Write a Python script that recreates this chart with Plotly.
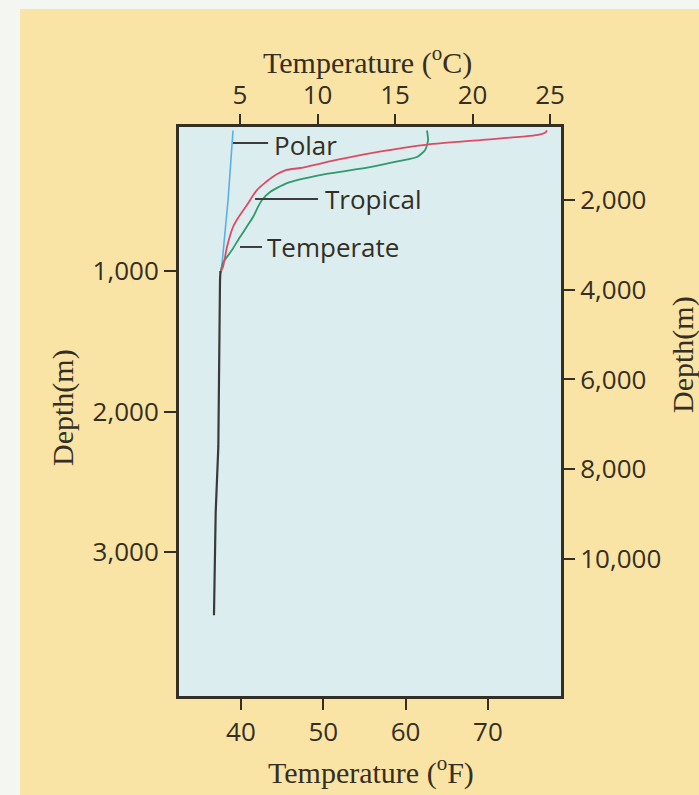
import plotly.graph_objects as go

# ---------------- data (temperature in °C, depth in m) ----------------
tropical_temp = [24.8, 24.7, 24.3, 23.7, 20.5, 17.1, 14.0, 11.3, 8.9, 8.0, 7.1, 6.1, 5.45, 4.87, 4.55, 4.16, 3.9, 3.74]
tropical_depth = [0, 15, 30, 39, 68, 100, 150, 208, 267, 281, 331, 423, 530, 623, 687, 829, 972, 1010]

temperate_temp = [17.06, 17.13, 16.94, 16.42, 15.32, 13.39, 10.16, 8.03, 6.94, 6.42, 6.16, 5.84, 5.0, 4.48, 3.9, 3.74]
temperate_depth = [0, 68, 139, 189, 217, 260, 317, 374, 438, 495, 544, 616, 758, 851, 943, 1010]

polar_temp = [4.55, 4.23, 3.82, 3.74]
polar_depth = [0, 495, 971, 1010]

deep_temp = [3.74, 3.71, 3.60, 3.43, 3.32]
deep_depth = [1000, 1064, 2252, 2722, 3450]

top_ticks_c = [5, 10, 15, 20, 25]
bottom_ticks_f = [40, 50, 60, 70]
left_ticks_m = [1000, 2000, 3000]
right_ticks = [2000, 4000, 6000, 8000, 10000]

# label positions (°C, m)
labels = [
    ("Polar", 7.06, 103, 4.55, 6.81, 89),
    ("Tropical", 10.35, 488, 5.97, 10.03, 488),
    ("Temperate", 6.61, 829, 5.0, 6.42, 829),
]

# ---------------- styling ----------------
INK = "#352e22"
BEIGE = "#f9e4a6"
PLOTBG = "#dcedef"
TICKFONT = dict(family="Open Sans", size=26, color=INK)
SERIF = dict(family="Liberation Serif", size=30, color=INK)

W, H = 699, 795
L, R, T, B = 178, 562, 126, 697  # plot box in pixels


def px(xp):
    return (xp - L) / (R - L)


def py(yp):
    return (B - yp) / (B - T)


fig = go.Figure()

fig.add_trace(go.Scatter(x=polar_temp, y=polar_depth, xaxis="x2", yaxis="y", mode="lines",
                         line=dict(color="#5bb0e2", width=1.6), name="Polar", showlegend=False))
fig.add_trace(go.Scatter(x=temperate_temp, y=temperate_depth, xaxis="x2", yaxis="y", mode="lines",
                         line=dict(color="#2f9a6c", width=1.8, shape="spline", smoothing=0.6),
                         name="Temperate", showlegend=False))
fig.add_trace(go.Scatter(x=tropical_temp, y=tropical_depth, xaxis="x2", yaxis="y", mode="lines",
                         line=dict(color="#de4a64", width=1.8, shape="spline", smoothing=0.6),
                         name="Tropical", showlegend=False))
fig.add_trace(go.Scatter(x=deep_temp, y=deep_depth, xaxis="x2", yaxis="y", mode="lines",
                         line=dict(color="#3a3a3a", width=2.2), name="Deep", showlegend=False))

shapes = [
    # beige page
    dict(type="rect", xref="paper", yref="paper", x0=px(20), x1=px(W + 5), y0=py(9), y1=py(H + 5),
         fillcolor=BEIGE, line=dict(width=0), layer="below"),
    # plot background
    dict(type="rect", xref="paper", yref="paper", x0=0, x1=1, y0=0, y1=1,
         fillcolor=PLOTBG, line=dict(color=INK, width=2), layer="below"),
]
annotations = []
for name, tx, ty, lx0, lx1, ly in labels:
    shapes.append(dict(type="line", xref="x2", yref="y", x0=lx0, x1=lx1, y0=ly, y1=ly,
                       line=dict(color="#3c3c3c", width=2)))
    annotations.append(dict(text=name, x=tx, y=ty, xref="x2", yref="y", xanchor="left",
                            yanchor="middle", showarrow=False, font=TICKFONT))

annotations += [
    dict(text="Temperature (<sup>o</sup>C)", x=px(367), y=py(61), xref="paper", yref="paper",
         showarrow=False, font=SERIF, xanchor="center", yanchor="middle"),
    dict(text="Temperature (<sup>o</sup>F)", x=px(371), y=py(770), xref="paper", yref="paper",
         showarrow=False, font=SERIF, xanchor="center", yanchor="middle"),
    dict(text="Depth(m)", x=px(63), y=py(408), xref="paper", yref="paper", textangle=-90,
         showarrow=False, font=SERIF, xanchor="center", yanchor="middle"),
    dict(text="Depth(m)", x=px(683), y=py(355), xref="paper", yref="paper", textangle=-90,
         showarrow=False, font=SERIF, xanchor="center", yanchor="middle"),
]

axis_common = dict(showgrid=False, zeroline=False, ticks="outside", tickcolor=INK, tickwidth=2,
                   showline=True, linecolor=INK, linewidth=2, tickfont=TICKFONT, fixedrange=True)

fig.update_layout(
    width=W, height=H,
    margin=dict(l=L, r=W - R, t=T, b=H - B, pad=0),
    paper_bgcolor="#f3f6f1",
    plot_bgcolor="rgba(0,0,0,0)",
    showlegend=False,
    shapes=shapes,
    annotations=annotations,
    xaxis=dict(range=[32.35, 79.0], tickvals=bottom_ticks_f, ticklen=11, side="bottom", **axis_common),
    xaxis2=dict(range=[1.0, 25.77], tickvals=top_ticks_c, ticklen=10, side="top", overlaying="x",
                **axis_common),
    yaxis=dict(range=[4032, -32], tickvals=left_ticks_m, tickformat=",d", ticklen=12, side="left",
               **axis_common),
    yaxis2=dict(range=[13066, 362], tickvals=right_ticks, tickformat=",d", ticklen=11, side="right",
                overlaying="y", **axis_common),
)
# invisible trace to activate bottom x axis and right y axis
fig.add_trace(go.Scatter(x=[None], y=[None], xaxis="x", yaxis="y2", showlegend=False, hoverinfo="skip"))

fig.write_html("out.html", config={"displayModeBar": False},
               post_script="document.body.style.margin='0';document.body.style.overflow='hidden';")
